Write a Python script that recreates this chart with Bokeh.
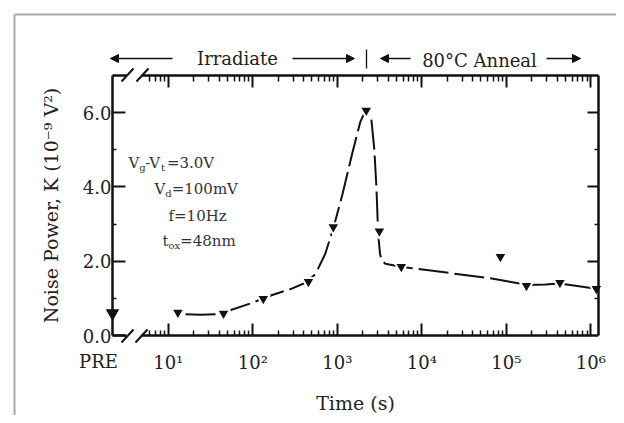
import math
from bokeh.plotting import figure
from bokeh.models import (Range1d, LogAxis, LinearAxis, FixedTicker, PrintfTickFormatter,
                          Arrow, NormalHead, Label)
from bokeh.embed import file_html
from bokeh.resources import INLINE

# ---------------- data ----------------
pre_label = "PRE"
pre_noise = 0.60
time_s = [13, 45, 133, 455, 896, 2200, 3140, 5710, 85000, 173000, 430000, 1160000]
noise_k = [0.62, 0.59, 0.99, 1.45, 2.92, 6.06, 2.81, 1.85, 2.12, 1.34, 1.42, 1.26]

fit_time = [16, 24, 36, 54, 93, 160, 280, 420, 550, 720, 900, 1150, 1500, 1870, 2200,
            2520, 2740, 2900, 3000, 3080, 3200, 3350, 3700, 4900, 7300, 21700, 64700,
            128000, 173000, 290000, 424000, 656000, 1160000]
fit_noise = [0.57, 0.56, 0.57, 0.68, 0.86, 1.07, 1.25, 1.42, 1.65, 2.2, 2.9, 3.8, 4.9, 5.75, 6.1,
             5.85, 5.0, 4.0, 3.1, 2.6, 2.2, 2.02, 1.93, 1.88, 1.82, 1.68, 1.54,
             1.42, 1.36, 1.37, 1.40, 1.34, 1.26]

x_ticks = [10, 100, 1000, 10000, 100000, 1000000]
x_tick_labels = ["10¹", "10²", "10³", "10⁴", "10⁵", "10⁶"]
y_ticks = [0, 2, 4, 6]
y_minor_ticks = [1, 3, 5]
x_title = "Time (s)"
y_title = "Noise Power, K (10⁻⁹ V²)"
phase_irradiate = "Irradiate"
phase_anneal = "80°C Anneal"
# condition text: (text, is_subscript)
cond_line1 = [("V", False), ("g", True), ("-V", False), ("t", True), ("=3.0V", False)]
cond_line2 = [("V", False), ("d", True), ("=100mV", False)]
cond_line3 = [("f=10Hz", False)]
cond_line4 = [("t", False), ("ox", True), ("=48nm", False)]

# ---------------- layout (page pixels) ----------------
W, H = 616, 415
LOG_START, LOG_END = 0.34, 6.09
X_START, X_END = 10 ** LOG_START, 10 ** LOG_END
Y_MAX = 7.0
F_L, F_T, F_R, F_B = 112, 75, 598, 335      # the plotted box
FONT = "DejaVu Serif"
INK = "#111111"
TXT = "#222222"
SX = (LOG_END - LOG_START) / (F_R - F_L)
SY = Y_MAX / (F_B - F_T)


def px_x(px):
    return 10 ** (LOG_START + (px - F_L) * SX)


def py_y(py):
    return (F_B - py) * SY


p = figure(x_axis_type="log", width=W, height=H,
           x_range=Range1d(px_x(0), px_x(W)), y_range=Range1d(py_y(H), py_y(0)),
           min_border=0, output_backend="svg", toolbar_location=None,
           background_fill_color="white", border_fill_color="white",
           outline_line_color=None)
p.xgrid.visible = False
p.ygrid.visible = False

minor_x = [m * 10 ** d for d in range(0, 7) for m in range(2, 10)
           if 10 ** 0.75 < m * 10 ** d < X_END]
x_ticker = FixedTicker(ticks=x_ticks, minor_ticks=minor_x)
y_ticker = FixedTicker(ticks=y_ticks, minor_ticks=y_minor_ticks)


def style_axis(ax, show_labels, major_len, minor_len):
    ax.axis_line_color = INK
    ax.axis_line_width = 2.5
    ax.major_tick_line_color = INK
    ax.major_tick_line_width = 2
    ax.minor_tick_line_color = INK
    ax.minor_tick_line_width = 1.5
    # ticks point into the plot box
    ax.major_tick_in = 0
    ax.minor_tick_in = 0
    ax.major_tick_out = -major_len
    ax.minor_tick_out = -minor_len
    ax.major_label_text_font = FONT
    ax.major_label_text_font_size = "18px"
    ax.major_label_text_color = TXT
    if not show_labels:
        ax.major_label_text_alpha = 0
    ax.axis_label_text_font = FONT
    ax.axis_label_text_font_size = "19px"
    ax.axis_label_text_font_style = "normal"
    ax.axis_label_text_color = TXT


xb = p.xaxis[0]
xb.ticker = x_ticker
xb.major_label_overrides = {t: lab for t, lab in zip(x_ticks, x_tick_labels)}
style_axis(xb, True, 12, 5)
xb.fixed_location = 0
xb.bounds = (X_START, X_END)
xb.major_label_standoff = 21
xb.axis_label = x_title
xb.axis_label_standoff = 16

yl = p.yaxis[0]
yl.ticker = y_ticker
yl.formatter = PrintfTickFormatter(format="%.1f")
style_axis(yl, True, 13, 4)
yl.fixed_location = X_START
yl.bounds = (0, Y_MAX)
yl.major_label_standoff = 5
yl.axis_label = y_title
yl.axis_label_standoff = 18

xt = LogAxis(ticker=x_ticker)
style_axis(xt, False, 12, 6)
xt.fixed_location = Y_MAX
xt.bounds = (X_START, X_END)
p.add_layout(xt, "above")

yr = LinearAxis(ticker=FixedTicker(ticks=y_ticks[1:], minor_ticks=y_minor_ticks))
style_axis(yr, False, 11, 4)
yr.fixed_location = X_END
yr.bounds = (0, Y_MAX)
p.add_layout(yr, "right")

# fitted (dashed) curve and measured points
p.line(fit_time, fit_noise, line_color=INK, line_width=2, line_dash="30 6")
p.scatter(time_s, noise_k, marker="inverted_triangle", size=13,
          fill_color=INK, line_color="white", line_width=2)
p.scatter([X_START], [pre_noise], marker="inverted_triangle", size=12,
          fill_color=INK, line_color=INK)

# PRE tick label
p.add_layout(Label(x=px_x(98), y=py_y(361), text=pre_label, text_font=FONT,
                   text_font_size="18px", text_color=TXT, text_align="center",
                   text_baseline="middle"))


def seg(x0, y0, x1, y1, color=INK, width=2.0, end=None):
    p.add_layout(Arrow(x_start=px_x(x0), y_start=py_y(y0), x_end=px_x(x1), y_end=py_y(y1),
                       line_color=color, line_width=width, end=end, start=None))


# axis break marks "//" (bottom and top)
for yb in (F_B, F_T):
    seg(126, yb, 141, yb, color="white", width=5)
seg(121, 342, 133, 329)
seg(135, 342, 147, 329)
seg(121, 81, 133, 68)
seg(136, 81, 148, 68)

# phase header arrows and labels
head = dict(size=8, fill_color=INK, line_color=INK)
seg(172, 58, 110, 58, width=1.3, end=NormalHead(**head))
seg(292, 58, 354, 58, width=1.3, end=NormalHead(**head))
seg(366, 49, 366, 68, width=1.3)
seg(410, 58, 380, 58, width=1.3, end=NormalHead(**head))
seg(546, 58, 580, 58, width=1.3, end=NormalHead(**head))
p.add_layout(Label(x=px_x(237), y=py_y(58), text=phase_irradiate, text_font=FONT,
                   text_font_size="18px", text_color=TXT, text_align="center",
                   text_baseline="middle"))
p.add_layout(Label(x=px_x(479), y=py_y(60), text=phase_anneal, text_font=FONT,
                   text_font_size="18px", text_color=TXT, text_align="center",
                   text_baseline="middle"))

# condition annotations (with subscripts)
cond_layout = [(cond_line1, 128, 162), (cond_line2, 154, 188), (cond_line3, 168, 215),
               (cond_line4, 162, 240)]
ADV = {"V": 10.8, "g": 6.0, "-V": 15.6, "t": 6.0, "d": 6.4, "ox": 11.6}
for pieces, x0, base in cond_layout:
    x = x0
    for txt, sub in pieces:
        p.add_layout(Label(x=px_x(x), y=py_y(base + (5 if sub else 0)), text=txt,
                           text_font=FONT, text_font_size="10px" if sub else "15px",
                           text_color="#333333", text_align="left",
                           text_baseline="alphabetic"))
        x += ADV.get(txt, 0)

# light grey picture frame (left and top)
seg(14, 14, 14, H, color="#aaaaaa", width=2)
seg(14, 14, W, 14, color="#aaaaaa", width=2)

open("out.html", "w").write(file_html(p, INLINE))
